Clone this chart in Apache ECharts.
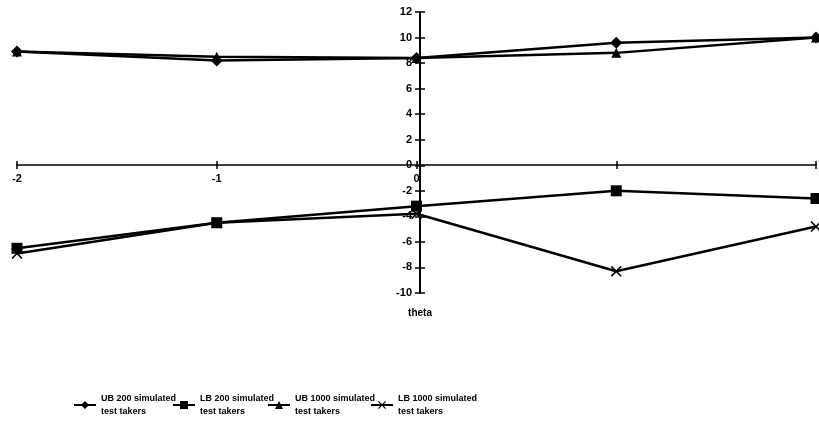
<!DOCTYPE html>
<html>
<head>
<meta charset="utf-8">
<script src="https://cdn.jsdelivr.net/npm/echarts@6/dist/echarts.min.js"></script>
<style>
  html, body { margin: 0; padding: 0; background: #fff; }
  #chart { width: 819px; height: 423px; }
</style>
</head>
<body>
<div id="chart"></div>
<script>
// theta values on the x axis
const thetas = [-2, -1, 0, 1, 2];
const ub200 = [8.9, 8.2, 8.4, 9.6, 10.0];
const lb200 = [-6.5, -4.5, -3.2, -2.0, -2.6];
const ub1000 = [8.9, 8.5, 8.4, 8.8, 10.0];
const lb1000 = [-6.9, -4.5, -3.8, -8.3, -4.8];
const seriesNames = [
  'UB 200 simulated\ntest takers',
  'LB 200 simulated\ntest takers',
  'UB 1000 simulated\ntest takers',
  'LB 1000 simulated\ntest takers'
];
const xLabelsShown = ['-2', '-1', '0'];

const font = '"Liberation Sans", Arial, sans-serif';
const crossSymbol = 'path://M0,1L1,0L5,4L9,0L10,1L6,5L10,9L9,10L5,6L1,10L0,9L4,5Z';
const tickStyle = { color: '#000', width: 1.5 };

function pairs(vals) {
  return thetas.map((t, i) => [t, vals[i]]);
}

function makeSeries(name, vals, symbol, size) {
  return {
    name: name,
    type: 'line',
    data: pairs(vals),
    symbol: symbol,
    symbolSize: size,
    lineStyle: { color: '#000', width: 2.5 },
    itemStyle: { color: '#000' },
    xAxisIndex: 0,
    yAxisIndex: 0
  };
}

// one legend per item so each sits where the original has it
const legendLefts = [68, 167, 262, 365];
const legends = seriesNames.map((n, i) => ({
  left: legendLefts[i], top: 387,
  itemWidth: 22, itemHeight: 10, itemGap: 4,
  textStyle: { fontFamily: font, fontWeight: 'bold', fontSize: 9, color: '#000', lineHeight: 13 },
  data: [n]
}));

const chart = echarts.init(document.getElementById('chart'));
chart.setOption({
  animation: false,
  backgroundColor: '#fff',
  textStyle: { fontFamily: font },
  grid: { left: 17, right: -4, top: 12, height: 281 },
  graphic: [{
    type: 'text', x: 420, y: 308,
    style: { text: 'theta', font: 'bold 10px ' + font, fill: '#000', textAlign: 'center' }
  }],
  legend: legends,
  xAxis: [{
    type: 'value', min: -2, max: 2, interval: 1, position: 'bottom', offset: -128,
    axisLine: { onZero: false, lineStyle: { color: '#000', width: 1.5 } },
    axisTick: { show: true, length: 4, lineStyle: tickStyle },
    splitLine: { show: false },
    axisLabel: {
      color: '#000', fontWeight: 'bold', fontSize: 11, margin: 8,
      formatter: v => xLabelsShown.includes(String(v)) ? String(v) : ''
    }
  }, {
    type: 'value', min: -2, max: 2, interval: 1, position: 'bottom', offset: -128,
    axisLine: { show: false, onZero: false },
    axisTick: { show: true, inside: true, length: 4, lineStyle: tickStyle },
    splitLine: { show: false },
    axisLabel: { show: false }
  }],
  yAxis: [{
    type: 'value', min: -10, max: 12, interval: 2, position: 'left', offset: -403,
    axisLine: { onZero: false, lineStyle: { color: '#000', width: 2 } },
    axisTick: { show: true, length: 5, lineStyle: tickStyle },
    splitLine: { show: false },
    axisLabel: { color: '#000', fontWeight: 'bold', fontSize: 11, margin: 8 }
  }, {
    type: 'value', min: -10, max: 12, interval: 2, position: 'left', offset: -403,
    axisLine: { show: false, onZero: false },
    axisTick: { show: true, inside: true, length: 5, lineStyle: tickStyle },
    splitLine: { show: false },
    axisLabel: { show: false }
  }],
  series: [
    makeSeries(seriesNames[0], ub200, 'diamond', 12),
    makeSeries(seriesNames[1], lb200, 'rect', 11),
    makeSeries(seriesNames[2], ub1000, 'triangle', 10),
    makeSeries(seriesNames[3], lb1000, crossSymbol, 11)
  ]
});
</script>
</body>
</html>
